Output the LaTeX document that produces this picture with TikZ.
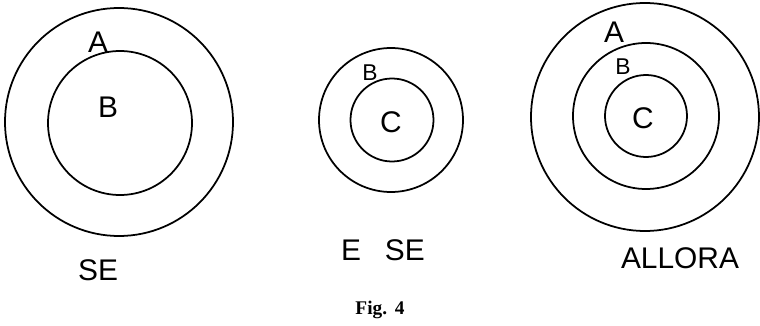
\documentclass[tikz,border=0pt]{standalone}
\usepackage{fontspec}
\setmainfont{Liberation Serif}
\newfontfamily\handfont{Liberation Sans}
\tikzset{
  ring/.style={draw, circle, line width=1pt, inner sep=0pt},
  hand/.style={font=\handfont\fontsize{17}{17}\selectfont, inner sep=1pt},
  handsm/.style={font=\handfont\fontsize{13}{13}\selectfont, inner sep=1pt},
  capn/.style={font=\fontsize{11}{11}\selectfont\bfseries, inner sep=1pt},
}

\begin{document}
\begin{tikzpicture}[x=1cm,y=1cm]
\useasboundingbox (0,0) rectangle (15.2,6.52);
% circles: name/diameter/x/y
\foreach \n/\d/\x/\y in {lo/4.56/2.38/4.08, li/2.88/2.40/4.06, mo/2.88/7.82/4.12, mi/1.66/7.84/4.12, ro/4.56/12.90/4.18, rm/2.92/12.92/4.20, ri/1.64/12.92/4.20} {
  \node[ring, minimum size=\d cm] (c\n) at (\x,\y) {};
}
% letters
\node[hand] (la) at (1.96,5.68) {A};
\node[hand] (lb) at (2.16,4.38) {B};
\node[handsm] (mb) at (7.40,5.06) {B};
\node[hand] (mc) at (7.82,4.08) {C};
\node[hand] (ra) at (12.28,5.88) {A};
\node[handsm] (rb) at (12.46,5.18) {B};
\node[hand] (rc) at (12.86,4.16) {C};
% words under the circles
\node[hand] (tse) at (1.96,1.12) {SE};
\node[hand] (tese) at (7.66,1.52) {E\hspace{0.8em}SE};
\node[hand] (tall) at (13.60,1.36) {ALLORA};
\node[capn] (fig) at (7.60,0.32) {Fig.\hspace{0.4em}4};
\end{tikzpicture}
\end{document}
